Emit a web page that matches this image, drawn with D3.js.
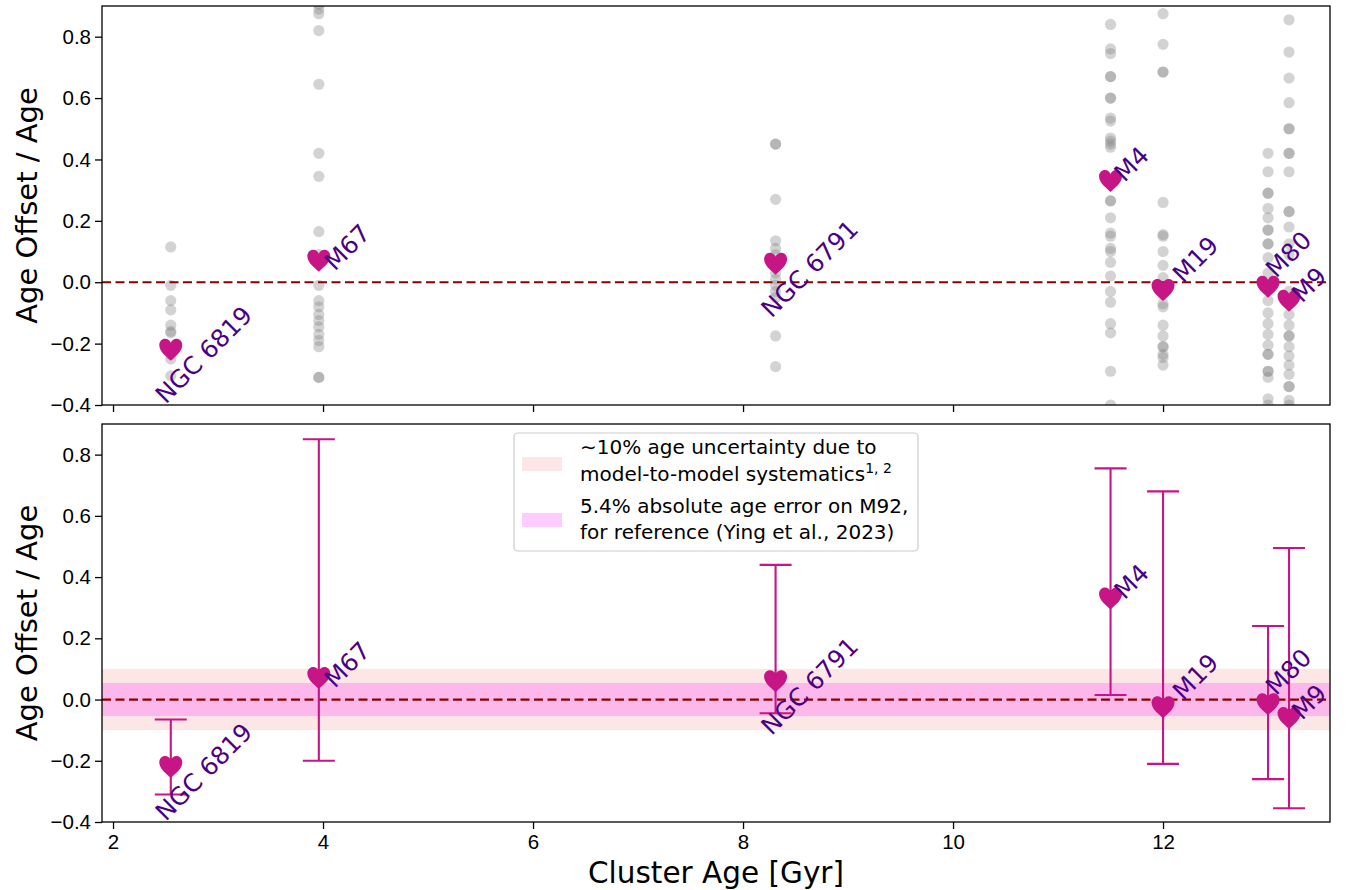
<!DOCTYPE html>
<html>
<meta charset="utf-8">
<head>
<style>
body { margin: 0; background: #fff; }
svg { font-family: "DejaVu Sans", sans-serif; }
.axis path, .axis line { stroke: #000; stroke-width: 1.3; }
.axis text { font-size: 20.5px; fill: #000; }
</style>
<script src="https://d3js.org/d3.v7.min.js"></script>
</head>
<body>
<script>
// cluster summary values
var clusters  = ["NGC 6819", "M67", "NGC 6791", "M4", "M19", "M80", "M9"];
var ages      = [2.55, 3.96, 8.31, 11.5, 12.0, 13.0, 13.2];
var offsets   = [-0.22, 0.07, 0.06, 0.33, -0.025, -0.015, -0.06];
var errHigh   = [-0.065, 0.85, 0.44, 0.755, 0.68, 0.24, 0.495];
var errLow    = [-0.31, -0.20, -0.045, 0.015, -0.21, -0.26, -0.355];

// individual offsets (grey points) per cluster
var ngc6819Pts = [0.115, -0.01, -0.06, -0.09, -0.14, -0.16, -0.165, -0.235, -0.25, -0.305];
var m67Pts     = [0.905, 0.89, 0.875, 0.82, 0.645, 0.42, 0.345, 0.165, 0.09, -0.01, -0.06, -0.08,
                  -0.105, -0.125, -0.145, -0.17, -0.19, -0.21, -0.31, -0.31];
var ngc6791Pts = [0.45, 0.45, 0.27, 0.135, 0.11, 0.09, 0.07, 0.05, 0.03, 0.01, -0.01, -0.03, -0.05,
                  -0.175, -0.275];
var m4Pts      = [0.84, 0.76, 0.745, 0.67, 0.67, 0.60, 0.60, 0.535, 0.525, 0.47, 0.46, 0.45, 0.44,
                  0.265, 0.265, 0.21, 0.16, 0.15, 0.11, 0.10, 0.065, 0.02, -0.03, -0.065, -0.135,
                  -0.165, -0.29, -0.40];
var m19Pts     = [0.875, 0.775, 0.685, 0.685, 0.26, 0.155, 0.15, 0.10, 0.055, 0.015, -0.04, -0.07,
                  -0.08, -0.14, -0.175, -0.21, -0.21, -0.235, -0.245, -0.27];
var m80Pts     = [0.42, 0.36, 0.29, 0.29, 0.24, 0.21, 0.17, 0.17, 0.125, 0.125, 0.08, 0.03, -0.06,
                  -0.10, -0.135, -0.17, -0.205, -0.235, -0.235, -0.29, -0.29, -0.31, -0.38, -0.40];
var m9Pts      = [0.855, 0.75, 0.665, 0.585, 0.50, 0.50, 0.42, 0.42, 0.36, 0.23, 0.23, 0.18, 0.125,
                  0.09, -0.03, -0.105, -0.14, -0.175, -0.175, -0.21, -0.24, -0.27, -0.30, -0.34,
                  -0.34, -0.385, -0.40];
var clusterPts = [ngc6819Pts, m67Pts, ngc6791Pts, m4Pts, m19Pts, m80Pts, m9Pts];

var xTicks = [2, 4, 6, 8, 10, 12];
var yTicks = [-0.4, -0.2, 0.0, 0.2, 0.4, 0.6, 0.8];
var sysBand = 0.10;   // ~10% model-to-model
var m92Band = 0.054;  // 5.4% absolute age error on M92

// label placement (pixel offsets from the heart, text rotated 45deg)
var labelDx = [-5, 16, -4, 14, 20, 8, 13];
var labelDy = [55, 11, 55, 2, -6, -8, 3];

var W = 1346, H = 890;
var left = 102, right = 1330;
var panels = [{top: 6, bottom: 405}, {top: 424, bottom: 822}];

var svg = d3.select("body").append("svg").attr("width", W).attr("height", H);

var x = d3.scaleLinear().domain([1.895, 13.59]).range([left, right]);

var heartPath = "M0,11 C-4,7 -11.5,2 -11.5,-4.5 C-11.5,-8.5 -8.8,-11 -5.7,-11 C-2.8,-11 -0.8,-9.3 0,-7 " +
                "C0.8,-9.3 2.8,-11 5.7,-11 C8.8,-11 11.5,-8.5 11.5,-4.5 C11.5,2 4,7 0,11 Z";
var heartColor = "#c71585", labelColor = "#4b0082";

panels.forEach(function(p, pi) {
    var y = d3.scaleLinear().domain([-0.4, 0.9]).range([p.bottom, p.top]);
    var g = svg.append("g");

    g.append("clipPath").attr("id", "clip" + pi)
      .append("rect").attr("x", left).attr("y", p.top)
        .attr("width", right - left).attr("height", p.bottom - p.top);
    var plot = g.append("g").attr("clip-path", "url(#clip" + pi + ")");

    if (pi == 0) {
        // grey individual points
        clusterPts.forEach(function(pts, ci) {
            plot.selectAll(null).data(pts).enter().append("circle")
                .attr("cx", x(ages[ci]))
                .attr("cy", function(d) { return y(d); })
                .attr("r", 5.6)
                .attr("fill", "gray")
                .attr("fill-opacity", 0.35);
        });
    } else {
        plot.append("rect")
            .attr("x", left).attr("width", right - left)
            .attr("y", y(sysBand)).attr("height", y(-sysBand) - y(sysBand))
            .attr("fill", "lightcoral").attr("fill-opacity", 0.2);
        plot.append("rect")
            .attr("x", left).attr("width", right - left)
            .attr("y", y(m92Band)).attr("height", y(-m92Band) - y(m92Band))
            .attr("fill", "magenta").attr("fill-opacity", 0.2);
    }

    // zero line
    plot.append("line")
        .attr("x1", left).attr("x2", right)
        .attr("y1", y(0)).attr("y2", y(0))
        .attr("stroke", "#8b0000").attr("stroke-width", 2.2)
        .attr("stroke-dasharray", "9,4.5");

    if (pi == 1) {
        // error bars
        var eb = plot.selectAll(".eb").data(ages).enter().append("g")
            .attr("stroke", heartColor).attr("stroke-width", 2.1);
        eb.append("line")
            .attr("x1", function(d) { return x(d); }).attr("x2", function(d) { return x(d); })
            .attr("y1", function(d, i) { return y(errHigh[i]); })
            .attr("y2", function(d, i) { return y(errLow[i]); });
        eb.append("line")
            .attr("x1", function(d) { return x(d) - 16; }).attr("x2", function(d) { return x(d) + 16; })
            .attr("y1", function(d, i) { return y(errHigh[i]); })
            .attr("y2", function(d, i) { return y(errHigh[i]); });
        eb.append("line")
            .attr("x1", function(d) { return x(d) - 16; }).attr("x2", function(d) { return x(d) + 16; })
            .attr("y1", function(d, i) { return y(errLow[i]); })
            .attr("y2", function(d, i) { return y(errLow[i]); });
    }

    // hearts
    plot.selectAll(".heart").data(ages).enter().append("path")
        .attr("d", heartPath)
        .attr("fill", heartColor)
        .attr("transform", function(d, i) { return "translate(" + x(d) + "," + y(offsets[i]) + ")"; });

    // labels
    g.selectAll(".lab").data(clusters).enter().append("text")
        .attr("transform", function(d, i) {
            return "translate(" + (x(ages[i]) + labelDx[i]) + "," + (y(offsets[i]) + labelDy[i]) + ") rotate(-45)";
        })
        .attr("font-size", 24.5)
        .attr("fill", labelColor)
        .text(function(d) { return d; });

    // axes
    var yAxis = d3.axisLeft(y).tickValues(yTicks).tickFormat(d3.format(".1f"))
        .tickSize(7).tickPadding(4).tickSizeOuter(0);
    g.append("g").attr("class", "axis").attr("transform", "translate(" + left + ",0)").call(yAxis)
        .select(".domain").remove();

    var xAxis = d3.axisBottom(x).tickValues(xTicks).tickSize(7).tickPadding(5).tickSizeOuter(0);
    if (pi == 0) xAxis.tickFormat("");
    g.append("g").attr("class", "axis").attr("transform", "translate(0," + p.bottom + ")").call(xAxis)
        .select(".domain").remove();

    // frame
    g.append("rect")
        .attr("x", left).attr("y", p.top)
        .attr("width", right - left).attr("height", p.bottom - p.top)
        .attr("fill", "none").attr("stroke", "#000").attr("stroke-width", 1.3);

    g.append("text")
        .attr("transform", "translate(37," + ((p.top + p.bottom) / 2) + ") rotate(-90)")
        .attr("text-anchor", "middle")
        .attr("font-size", 29)
        .text("Age Offset / Age");
});

svg.append("text")
    .attr("x", (left + right) / 2).attr("y", 883)
    .attr("text-anchor", "middle")
    .attr("font-size", 29.5)
    .text("Cluster Age [Gyr]");

// legend
var lg = svg.append("g");
lg.append("rect").attr("x", 514).attr("y", 433).attr("width", 404).attr("height", 118)
    .attr("rx", 4).attr("fill", "#fff").attr("fill-opacity", 0.8)
    .attr("stroke", "#ccc").attr("stroke-width", 1.2);
lg.append("rect").attr("x", 522).attr("y", 457).attr("width", 40).attr("height", 14)
    .attr("fill", "lightcoral").attr("fill-opacity", 0.2);
lg.append("rect").attr("x", 522).attr("y", 513).attr("width", 40).attr("height", 14)
    .attr("fill", "magenta").attr("fill-opacity", 0.2);
var lt = lg.append("g").attr("font-size", 20).attr("fill", "#000");
lt.append("text").attr("x", 580).attr("y", 454).text("\u223c10% age uncertainty due to");
var l2 = lt.append("text").attr("x", 580).attr("y", 481).text("model-to-model systematics");
l2.append("tspan").attr("font-size", 14).attr("dy", -8).text("1, 2");
lt.append("text").attr("x", 580).attr("y", 513).text("5.4% absolute age error on M92,");
lt.append("text").attr("x", 580).attr("y", 539).text("for reference (Ying et al., 2023)");
</script>
</body>
</html>
